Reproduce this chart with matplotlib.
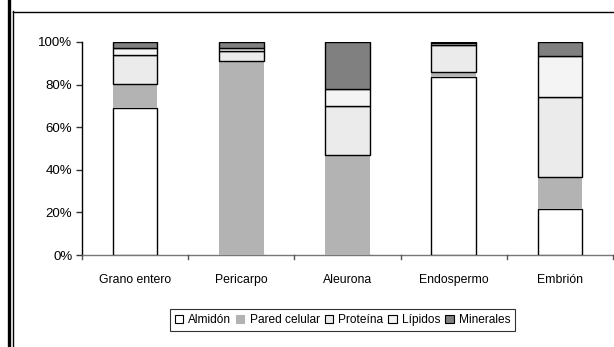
import matplotlib
matplotlib.use("Agg")
import matplotlib.pyplot as plt
from matplotlib.lines import Line2D
from matplotlib.patches import Patch
import numpy as np

plt.rcParams['font.family'] = ['Liberation Sans', 'DejaVu Sans']

categories = ["Grano entero", "Pericarpo", "Aleurona", "Endospermo", "Embrión"]
almidon = [69.0, 0.0, 0.0, 83.5, 21.5]
pared_celular = [11.5, 91.0, 47.0, 2.5, 15.0]
proteina = [13.5, 5.0, 23.0, 12.5, 37.5]
lipidos = [3.0, 1.0, 8.0, 1.0, 19.5]
minerales = [3.0, 3.0, 22.0, 0.5, 6.5]

series = [
    ("Almidón", almidon, "#FFFFFF", "black"),
    ("Pared celular", pared_celular, "#B3B3B3", "none"),
    ("Proteína", proteina, "#EBEBEB", "black"),
    ("Lípidos", lipidos, "#F4F4F4", "black"),
    ("Minerales", minerales, "#808080", "black"),
]

fig = plt.figure(figsize=(6.14, 3.47), dpi=100)
W, H = 614, 347

def fx(px):
    return px / W

def fy(py):
    return 1 - py / H

ax = fig.add_axes([fx(82), fy(255), fx(613) - fx(82), fy(42) - fy(255)])

x = np.arange(len(categories))
bottom = np.zeros(len(categories))
for name, vals, color, edge in series:
    vals = np.array(vals)
    ax.bar(x, vals, width=0.42, bottom=bottom, color=color,
           edgecolor=edge, linewidth=1.0, zorder=3)
    bottom += vals

ax.set_xlim(-0.5, len(categories) - 0.5)
ax.set_ylim(0, 100)
ax.set_yticks(np.arange(0, 101, 20))
ax.set_yticklabels([f"{v}%" for v in range(0, 101, 20)], fontsize=9.5)
ax.set_xticks(x)
ax.set_xticklabels(categories, fontsize=8.8)
ax.tick_params(axis='x', length=0, pad=14)
ax.tick_params(axis='y', length=4, width=1, color="#333333", pad=3)

# category separator ticks below the axis
for b in np.arange(-0.5, len(categories), 1.0):
    ax.plot([b, b], [0, -2], color="#555555", lw=1, clip_on=False, zorder=4)

for s in ["top", "right"]:
    ax.spines[s].set_visible(False)
ax.spines["left"].set_color("black")
ax.spines["left"].set_linewidth(1.0)
ax.spines["bottom"].set_color("#777777")
ax.spines["bottom"].set_linewidth(1.0)

# legend
handles = [Patch(facecolor=c, edgecolor=(e if e != "none" else c), linewidth=0.8, label=n)
           for n, _, c, e in series]
leg = fig.legend(handles=handles, loc="center",
                 bbox_to_anchor=(fx(342.5), fy(320)), ncol=5, fontsize=8.6,
                 frameon=True, fancybox=False, edgecolor="black",
                 handlelength=0.7, handleheight=0.7, handletextpad=0.45,
                 columnspacing=0.4, borderpad=0.4, borderaxespad=0)
leg.get_frame().set_linewidth(0.8)

# outer frame lines
fig.add_artist(Line2D([fx(9.3), fx(9.3)], [0, 1], color="black", lw=2.4))
fig.add_artist(Line2D([fx(13.3), fx(13.3)], [0, fy(11)], color="black", lw=1.0))
fig.add_artist(Line2D([fx(13.3), 1], [fy(11.5), fy(11.5)], color="black", lw=1.0))

fig.savefig("out.png", dpi=100)
